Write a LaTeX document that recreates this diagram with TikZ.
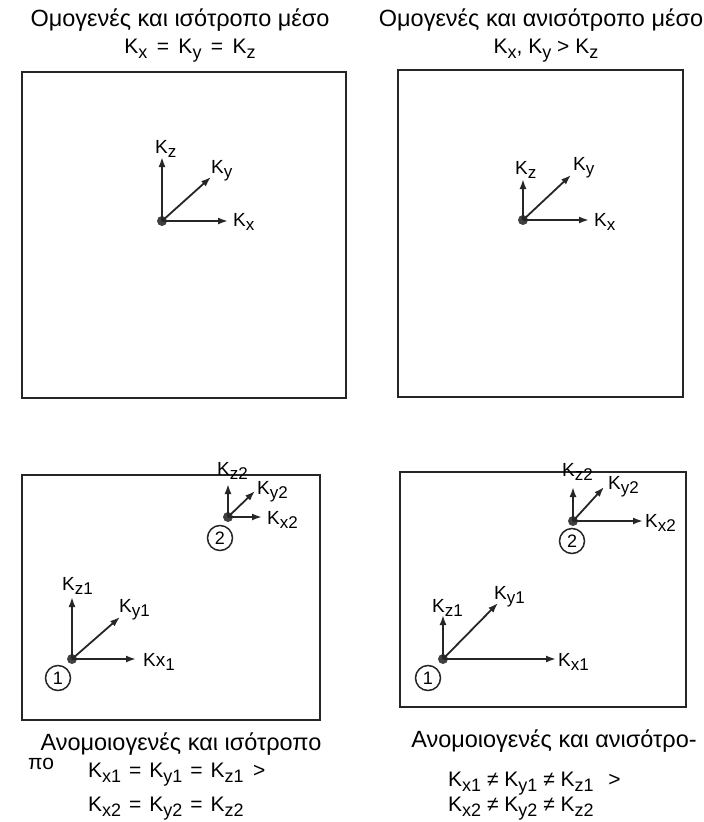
\documentclass[tikz,border=0pt]{standalone}
\usepackage{fontspec}
\setmainfont{Liberation Sans}
\usetikzlibrary{arrows.meta}
\newcommand\Kl[1]{K\raisebox{-4.5pt}{\fontsize{17}{17}\selectfont #1}}
\newcommand\Ke[1]{K\raisebox{-5pt}{\fontsize{18}{18}\selectfont #1}}
\newcommand\eqs{\hspace{0.45em}=\hspace{0.45em}}
\newcommand\eqb{\hspace{0.38em}=\hspace{0.38em}}
\begin{document}
\begin{tikzpicture}[x=1pt,y=-1pt,
  box/.style={draw=black!85, line width=2.2pt},
  vec/.style={draw=black!85, line width=1.8pt, -{Latex[length=10pt,width=7pt]}},
  dotn/.style={circle, fill=black!75, inner sep=0pt, minimum size=10pt},
  num/.style={circle, draw=black!85, line width=1.5pt, inner sep=0pt, minimum size=25pt, font=\fontsize{18}{18}\selectfont},
  lab/.style={anchor=base west, inner sep=0pt, font=\fontsize{19}{21}\selectfont},
  ttl/.style={anchor=base, inner sep=0pt, font=\fontsize{23.5}{26}\selectfont},
  ttw/.style={anchor=base west, inner sep=0pt, font=\fontsize{21}{23}\selectfont},
  eqc/.style={anchor=base, inner sep=0pt, font=\fontsize{21}{23}\selectfont},
  eqw/.style={anchor=base west, inner sep=0pt, font=\fontsize{21}{23}\selectfont}]
\useasboundingbox (0,0) rectangle (704,822);
\fill[white] (0,0) rectangle (704,822);

% titles
\node[ttl] (t1) at (180,26) {Ομογενές και ισότροπο μέσο};
\node[ttl] (t2) at (541,26) {Ομογενές και ανισότροπο μέσο};
\node[eqc] (e1) at (190,53) {\Ke{x}\eqs\Ke{y}\eqs\Ke{z}};
\node[eqc] (e2) at (546,53) {\Ke{x}, \Ke{y} > \Ke{z}};

% boxes
\draw[box] (22,72) rectangle (346,398);
\draw[box] (398,70) rectangle (683,397);
\draw[box] (22,475) rectangle (320,720);
\draw[box] (400,472) rectangle (686,707);

% top-left
\node[dotn] (A) at (162,221) {};
\coordinate (Ax) at (228,221); \coordinate (Az) at (162,157); \coordinate (Ay) at (211,177);
\draw[vec] (A.center) -- (Ax); \draw[vec] (A.center) -- (Az); \draw[vec] (A.center) -- (Ay);
\node[lab] (Axl) at (233,226) {\Kl{x}};
\node[lab] (Azl) at (155,153) {\Kl{z}};
\node[lab] (Ayl) at (211,173) {\Kl{y}};

% top-right
\node[dotn] (B) at (523,220) {};
\coordinate (Bx) at (589,220); \coordinate (Bz) at (523,179); \coordinate (By) at (571,175);
\draw[vec] (B.center) -- (Bx); \draw[vec] (B.center) -- (Bz); \draw[vec] (B.center) -- (By);
\node[lab] (Bxl) at (594,226) {\Kl{x}};
\node[lab] (Bzl) at (515,174) {\Kl{z}};
\node[lab] (Byl) at (573,170) {\Kl{y}};

% bottom-left point 2
\node[dotn] (C) at (228,517) {};
\coordinate (Cx) at (262,517); \coordinate (Cz) at (228,484); \coordinate (Cy) at (255,491);
\draw[vec] (C.center) -- (Cx); \draw[vec] (C.center) -- (Cz); \draw[vec] (C.center) -- (Cy);
\node[lab] (Cxl) at (267,524) {\Kl{x2}};
\node[lab] (Czl) at (217,475) {\Kl{z2}};
\node[lab] (Cyl) at (257,494) {\Kl{y2}};
\node[num] (Cn) at (220,538) {2};

% bottom-left point 1
\node[dotn] (D) at (72,659) {};
\coordinate (Dx) at (136,659); \coordinate (Dz) at (72,597); \coordinate (Dy) at (120,617);
\draw[vec] (D.center) -- (Dx); \draw[vec] (D.center) -- (Dz); \draw[vec] (D.center) -- (Dy);
\node[lab] (Dxl) at (143,666) {Kx\raisebox{-4.5pt}{\fontsize{17}{17}\selectfont 1}};
\node[lab] (Dzl) at (62,590) {\Kl{z1}};
\node[lab] (Dyl) at (119,612) {\Kl{y1}};
\node[num] (Dn) at (58,678) {1};

% bottom-right point 2
\node[dotn] (E) at (573,521) {};
\coordinate (Ex) at (643,521); \coordinate (Ez) at (573,487); \coordinate (Ey) at (604,487);
\draw[vec] (E.center) -- (Ex); \draw[vec] (E.center) -- (Ez); \draw[vec] (E.center) -- (Ey);
\node[lab] (Exl) at (645,527) {\Kl{x2}};
\node[lab] (Ezl) at (562,476) {\Kl{z2}};
\node[lab] (Eyl) at (608,489) {\Kl{y2}};
\node[num] (En) at (572,541) {2};

% bottom-right point 1
\node[dotn] (F) at (443,659) {};
\coordinate (Fx) at (556,659); \coordinate (Fz) at (443,615); \coordinate (Fy) at (498,603);
\draw[vec] (F.center) -- (Fx); \draw[vec] (F.center) -- (Fz); \draw[vec] (F.center) -- (Fy);
\node[lab] (Fxl) at (558,666) {\Kl{x1}};
\node[lab] (Fzl) at (432,612) {\Kl{z1}};
\node[lab] (Fyl) at (494,599) {\Kl{y1}};
\node[num] (Fn) at (428,678) {1};

% captions
\node[ttl] (c1) at (181,750) {Ανομοιογενές και ισότροπο};
\node[ttw] (c1b) at (28,769) {πο};
\node[eqw] (c1e1) at (88,777) {\Ke{x1}\eqb\Ke{y1}\eqb\Ke{z1}\hspace{0.45em}>};
\node[eqw] (c1e2) at (88,811) {\Ke{x2}\eqb\Ke{y2}\eqb\Ke{z2}};
\node[ttl] (c2) at (554,747) {Ανομοιογενές και ανισότρο-};
\node[eqw] (c2e1) at (448,786) {\Ke{x1} ≠ \Ke{y1} ≠ \Ke{z1}\hspace{0.7em}>};
\node[eqw] (c2e2) at (448,811) {\Ke{x2} ≠ \Ke{y2} ≠ \Ke{z2}};
\end{tikzpicture}
\end{document}
